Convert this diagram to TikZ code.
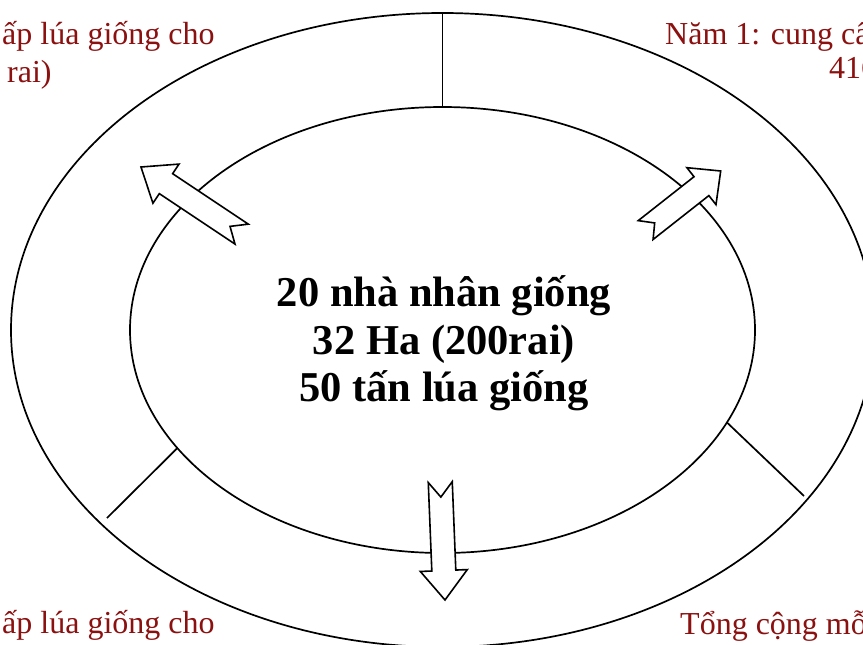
\documentclass[tikz,border=0pt]{standalone}
\usepackage{fontspec}
\setmainfont{Liberation Serif}
\usetikzlibrary{shapes.geometric}
\definecolor{txtred}{RGB}{139,16,16}
\tikzset{
  ring/.style={ellipse, draw, line width=1.7pt, inner sep=0pt, outer sep=0pt},
  divider/.style={line width=1.7pt},
  arrowshape/.style={draw, fill=white, line width=1.6pt, line join=miter},
  sidetext/.style={text=txtred, font=\fontsize{32}{37}\selectfont, inner sep=0pt, anchor=base west},
  centertext/.style={font=\fontsize{42.5}{48}\selectfont\bfseries, inner sep=0pt, anchor=base}
}
\newcommand\notchedarrow[5]{%
  \begin{scope}[shift={#1}, rotate=#2]
    \draw[arrowshape] (0,0) -- (#4,-23.5) -- (#4,-12) -- (#3,-12) -- (#5,0)
      -- (#3,12) -- (#4,12) -- (#4,23.5) -- cycle;
  \end{scope}}
\begin{document}
\begin{tikzpicture}[x=1pt,y=-1pt]
\useasboundingbox (0,0) rectangle (863,645);
\clip (0,0) rectangle (863,645);
\node[ring, minimum width=863pt, minimum height=634pt] (outer) at (442.5,330) {};
\node[ring, minimum width=625pt, minimum height=446pt] (inner) at (442.5,330) {};
\coordinate (ll) at (107,518);
\coordinate (lr) at (804,496);
\draw[divider] (outer.north) -- (inner.north);
\draw[divider] (inner.204.2) -- (ll);
\draw[divider] (inner.342) -- (lr);
\notchedarrow{(141,167)}{-33.7}{121}{30}{107}
\notchedarrow{(720.7,171)}{-141.8}{95.5}{24.5}{84}
\notchedarrow{(445,600)}{92.3}{118}{29.5}{103}
\node[centertext] (c1) at (444,306) {20 nhà nhân giống};
\node[centertext] (c2) at (444,354) {32 Ha (200rai)};
\node[centertext] (c3) at (444,401) {50 tấn lúa giống};
\node[sidetext] (tl1) at (2,45) {ấp lúa giống cho};
\node[sidetext] (tl2) at (7,82) {rai)};
\node[sidetext] (tr1) at (665,44) {Năm 1: cung cấ};
\node[sidetext] (tr2) at (829,78) {416};
\node[sidetext] (bl1) at (2,633) {ấp lúa giống cho};
\node[sidetext] (br1) at (680,634) {Tổng cộng mỗ};
\end{tikzpicture}
\end{document}
